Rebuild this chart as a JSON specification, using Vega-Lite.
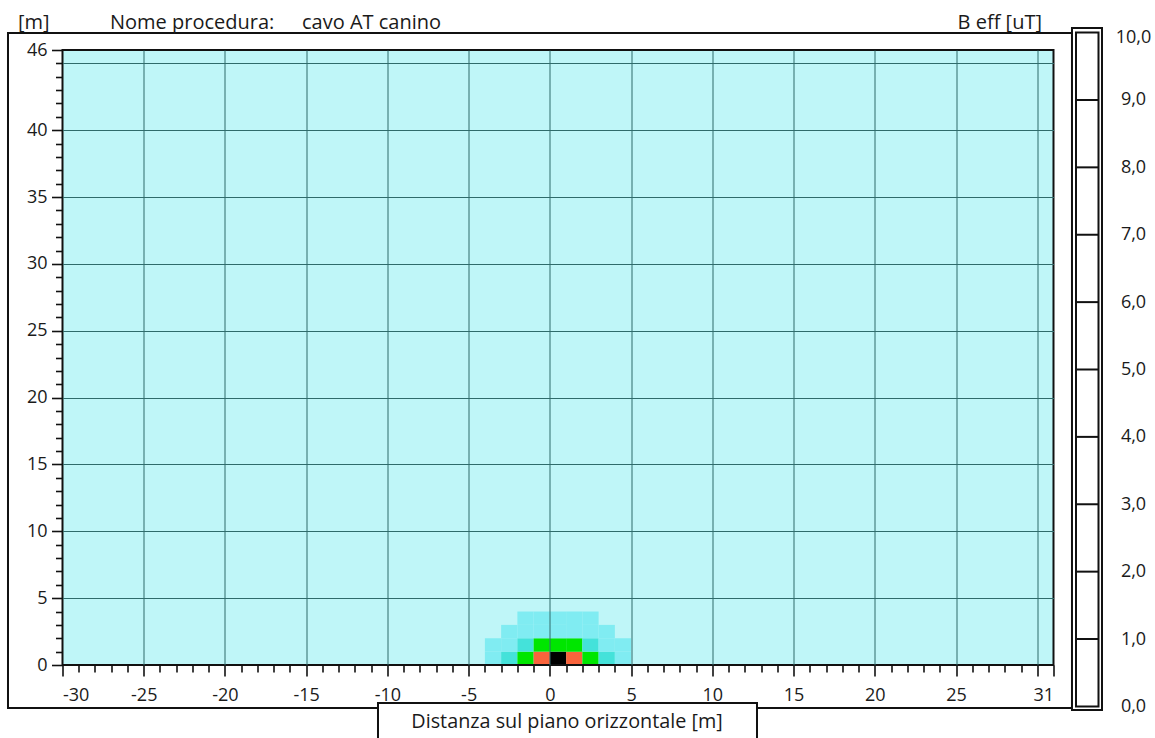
{
  "$schema": "https://vega.github.io/schema/vega-lite/v6.json",
  "width": 991,
  "height": 615,
  "autosize": {"type": "none"},
  "padding": {"left": 62.5, "top": 50, "right": 101.5, "bottom": 73},
  "background": "white",
  "config": {
    "view": {"stroke": null, "fill": "#bff6f8"},
    "font": "Open Sans",
    "text": {"font": "Open Sans", "color": "#1a1a1a"}
  },
  "datasets": {
    "cells": [
      {"x": -4, "x2": -3, "y": 0, "y2": 1, "B": 1.4},
      {"x": -3, "x2": -2, "y": 0, "y2": 1, "B": 2.3},
      {"x": -2, "x2": -1, "y": 0, "y2": 1, "B": 3.3},
      {"x": -1, "x2": 0, "y": 0, "y2": 1, "B": 5.2},
      {"x": 0, "x2": 1, "y": 0, "y2": 1, "B": 8.5},
      {"x": 1, "x2": 2, "y": 0, "y2": 1, "B": 5.2},
      {"x": 2, "x2": 3, "y": 0, "y2": 1, "B": 3.3},
      {"x": 3, "x2": 4, "y": 0, "y2": 1, "B": 2.3},
      {"x": 4, "x2": 5, "y": 0, "y2": 1, "B": 1.4},
      {"x": -4, "x2": -3, "y": 1, "y2": 2, "B": 1.2},
      {"x": -3, "x2": -2, "y": 1, "y2": 2, "B": 1.6},
      {"x": -2, "x2": -1, "y": 1, "y2": 2, "B": 2.4},
      {"x": -1, "x2": 0, "y": 1, "y2": 2, "B": 3.4},
      {"x": 0, "x2": 1, "y": 1, "y2": 2, "B": 3.8},
      {"x": 1, "x2": 2, "y": 1, "y2": 2, "B": 3.4},
      {"x": 2, "x2": 3, "y": 1, "y2": 2, "B": 2.4},
      {"x": 3, "x2": 4, "y": 1, "y2": 2, "B": 1.6},
      {"x": 4, "x2": 5, "y": 1, "y2": 2, "B": 1.2},
      {"x": -3, "x2": -2, "y": 2, "y2": 3, "B": 1.1},
      {"x": -2, "x2": -1, "y": 2, "y2": 3, "B": 1.5},
      {"x": -1, "x2": 0, "y": 2, "y2": 3, "B": 1.8},
      {"x": 0, "x2": 1, "y": 2, "y2": 3, "B": 1.9},
      {"x": 1, "x2": 2, "y": 2, "y2": 3, "B": 1.8},
      {"x": 2, "x2": 3, "y": 2, "y2": 3, "B": 1.5},
      {"x": 3, "x2": 4, "y": 2, "y2": 3, "B": 1.1},
      {"x": -2, "x2": -1, "y": 3, "y2": 4, "B": 1.1},
      {"x": -1, "x2": 0, "y": 3, "y2": 4, "B": 1.3},
      {"x": 0, "x2": 1, "y": 3, "y2": 4, "B": 1.4},
      {"x": 1, "x2": 2, "y": 3, "y2": 4, "B": 1.3},
      {"x": 2, "x2": 3, "y": 3, "y2": 4, "B": 1.1}
    ],
    "legendSteps": [
      {"B": 1}, {"B": 2}, {"B": 3}, {"B": 4}, {"B": 5},
      {"B": 6}, {"B": 7}, {"B": 8}, {"B": 9}
    ]
  },
  "layer": [
    {
      "layer": [
        {
          "data": {"name": "cells"},
          "mark": {"type": "rect", "strokeWidth": 0},
          "encoding": {
            "x": {
              "field": "x", "type": "quantitative",
              "scale": {"domain": [-30, 31], "nice": false, "zero": false},
              "axis": {
                "orient": "bottom",
                "values": [-30,-29,-28,-27,-26,-25,-24,-23,-22,-21,-20,-19,-18,-17,-16,-15,-14,-13,-12,-11,-10,-9,-8,-7,-6,-5,-4,-3,-2,-1,0,1,2,3,4,5,6,7,8,9,10,11,12,13,14,15,16,17,18,19,20,21,22,23,24,25,26,27,28,29,30,31],
                "tickCount": 200,
                "domain": false,
                "grid": true,
                "gridColor": "#2f6b6b",
                "gridWidth": 1,
                "gridOpacity": {"condition": {"test": "datum.value % 5 === 0 && datum.value > -30", "value": 1}, "value": 0},
                "ticks": true,
                "tickColor": "#111111",
                "tickWidth": 1.6,
                "tickSize": {"condition": {"test": "datum.value % 5 === 0 || datum.value === 31", "value": 11}, "value": 7},
                "labelExpr": "((datum.value % 5 === 0 && datum.value !== 30) || datum.value === 31) ? ('' + datum.value) : ''",
                "labelOverlap": false,
                "labelPadding": 10.5,
                "labelFontSize": 18,
                "labelColor": "#1a1a1a",
                "labelFont": "Open Sans",
                "title": null,
                "zindex": 1
              }
            },
            "x2": {"field": "x2"},
            "y": {
              "field": "y", "type": "quantitative",
              "scale": {"domain": [0, 46], "nice": false, "zero": false},
              "axis": {
                "orient": "left",
                "values": [0,1,2,3,4,5,6,7,8,9,10,11,12,13,14,15,16,17,18,19,20,21,22,23,24,25,26,27,28,29,30,31,32,33,34,35,36,37,38,39,40,41,42,43,44,45,46],
                "tickCount": 200,
                "domain": false,
                "grid": true,
                "gridColor": "#2f6b6b",
                "gridWidth": 1,
                "gridOpacity": {"condition": {"test": "datum.value % 5 === 0 && datum.value > 0", "value": 1}, "value": 0},
                "ticks": true,
                "tickColor": "#111111",
                "tickWidth": 1.6,
                "tickSize": {"condition": {"test": "(datum.value % 5 === 0 && datum.value !== 45) || datum.value === 46", "value": 11}, "value": 7},
                "labelExpr": "((datum.value % 5 === 0 && datum.value !== 45) || datum.value === 46) ? ('' + datum.value) : ''",
                "labelOverlap": false,
                "labelPadding": 4.5,
                "labelFontSize": 18,
                "labelColor": "#1a1a1a",
                "labelFont": "Open Sans",
                "title": null,
                "zindex": 1
              }
            },
            "y2": {"field": "y2"},
            "color": {
              "field": "B", "type": "quantitative",
              "scale": {"type": "threshold", "domain": [1, 2, 3, 4, 6], "range": ["#bff6f8", "#80ecf2", "#44e2da", "#00e600", "#f9643c", "#000000"]},
              "legend": null
            }
          }
        },
        {
          "data": {"values": [{}]},
          "mark": {"type": "rect", "fill": "white", "fillOpacity": 0, "stroke": "#111111", "strokeWidth": 2, "clip": false},
          "encoding": {
            "x": {"datum": -30, "type": "quantitative"},
            "x2": {"datum": 31},
            "y": {"datum": 0, "type": "quantitative"},
            "y2": {"datum": 46}
          }
        },
        {
          "data": {"values": [{}]},
          "mark": {"type": "rect", "fill": "white", "fillOpacity": 0, "stroke": "#111111", "strokeWidth": 2, "clip": false},
          "encoding": {
            "x": {"datum": -33.355, "type": "quantitative"},
            "x2": {"datum": 32.138},
            "y": {"datum": -3.216, "type": "quantitative"},
            "y2": {"datum": 47.27}
          }
        },
        {
          "data": {"values": [{}]},
          "mark": {"type": "rect", "fill": "white", "stroke": "#111111", "strokeWidth": 2, "clip": false},
          "encoding": {
            "x": {"datum": -10.58, "type": "quantitative"},
            "x2": {"datum": 12.749},
            "y": {"datum": -6.4, "type": "quantitative"},
            "y2": {"datum": -2.842}
          }
        },
        {
          "data": {"values": [{}]},
          "mark": {"type": "text", "text": "Distanza sul piano orizzontale [m]", "fontSize": 19.8, "align": "center", "baseline": "middle", "clip": false},
          "encoding": {
            "x": {"datum": 1.054, "type": "quantitative"},
            "y": {"datum": -4.263, "type": "quantitative"}
          }
        },
        {
          "data": {"values": [{}]},
          "mark": {"type": "text", "text": "[m]", "fontSize": 20, "align": "left", "baseline": "alphabetic", "clip": false},
          "encoding": {
            "x": {"datum": -32.739, "type": "quantitative"},
            "y": {"datum": 47.57, "type": "quantitative"}
          }
        },
        {
          "data": {"values": [{}]},
          "mark": {"type": "text", "text": "Nome procedura:", "fontSize": 20, "align": "left", "baseline": "alphabetic", "clip": false},
          "encoding": {
            "x": {"datum": -27.076, "type": "quantitative"},
            "y": {"datum": 47.57, "type": "quantitative"}
          }
        },
        {
          "data": {"values": [{}]},
          "mark": {"type": "text", "text": "cavo AT canino", "fontSize": 20, "align": "left", "baseline": "alphabetic", "clip": false},
          "encoding": {
            "x": {"datum": -15.258, "type": "quantitative"},
            "y": {"datum": 47.57, "type": "quantitative"}
          }
        },
        {
          "data": {"values": [{}]},
          "mark": {"type": "text", "text": "B eff [uT]", "fontSize": 20, "align": "right", "baseline": "alphabetic", "clip": false},
          "encoding": {
            "x": {"datum": 30.292, "type": "quantitative"},
            "y": {"datum": 47.57, "type": "quantitative"}
          }
        }
      ]
    },
    {
      "layer": [
        {
          "data": {"values": [{}]},
          "mark": {"type": "rect", "fill": "white", "stroke": "#111111", "strokeWidth": 2, "clip": false},
          "encoding": {
            "x": {"datum": 32.138, "type": "quantitative"},
            "x2": {"datum": 33.985},
            "y": {"datum": -0.053, "type": "quantitative"},
            "y2": {"datum": 10.068}
          }
        },
        {
          "data": {"values": [{}]},
          "mark": {"type": "rect", "fill": "white", "stroke": "#111111", "strokeWidth": 2, "clip": false},
          "encoding": {
            "x": {"datum": 32.385, "type": "quantitative"},
            "x2": {"datum": 33.77},
            "y": {
              "datum": 0, "type": "quantitative",
              "scale": {"domain": [0, 10], "range": [656.4, -17.4], "nice": false, "zero": false},
              "axis": {
                "orient": "right",
                "values": [0, 1, 2, 3, 4, 5, 6, 7, 8, 9, 10],
                "tickCount": 200,
                "format": ".1f",
                "labelExpr": "replace(datum.label, '.', ',')",
                "domain": false,
                "ticks": false,
                "grid": false,
                "labelAlign": "center",
                "labelPadding": 79.5,
                "labelOffset": {"condition": {"test": "datum.value === 10", "value": 5}, "value": 0},
                "labelFontSize": 18,
                "labelColor": "#1a1a1a",
                "labelFont": "Open Sans",
                "labelOverlap": false,
                "title": null
              }
            },
            "y2": {"datum": 10}
          }
        },
        {
          "data": {"name": "legendSteps"},
          "mark": {"type": "rule", "stroke": "#111111", "strokeWidth": 2, "clip": false},
          "encoding": {
            "x": {"datum": 32.385, "type": "quantitative"},
            "x2": {"datum": 33.77},
            "y": {"field": "B", "type": "quantitative"}
          }
        }
      ]
    }
  ],
  "resolve": {"scale": {"y": "independent"}, "axis": {"y": "independent"}}
}
